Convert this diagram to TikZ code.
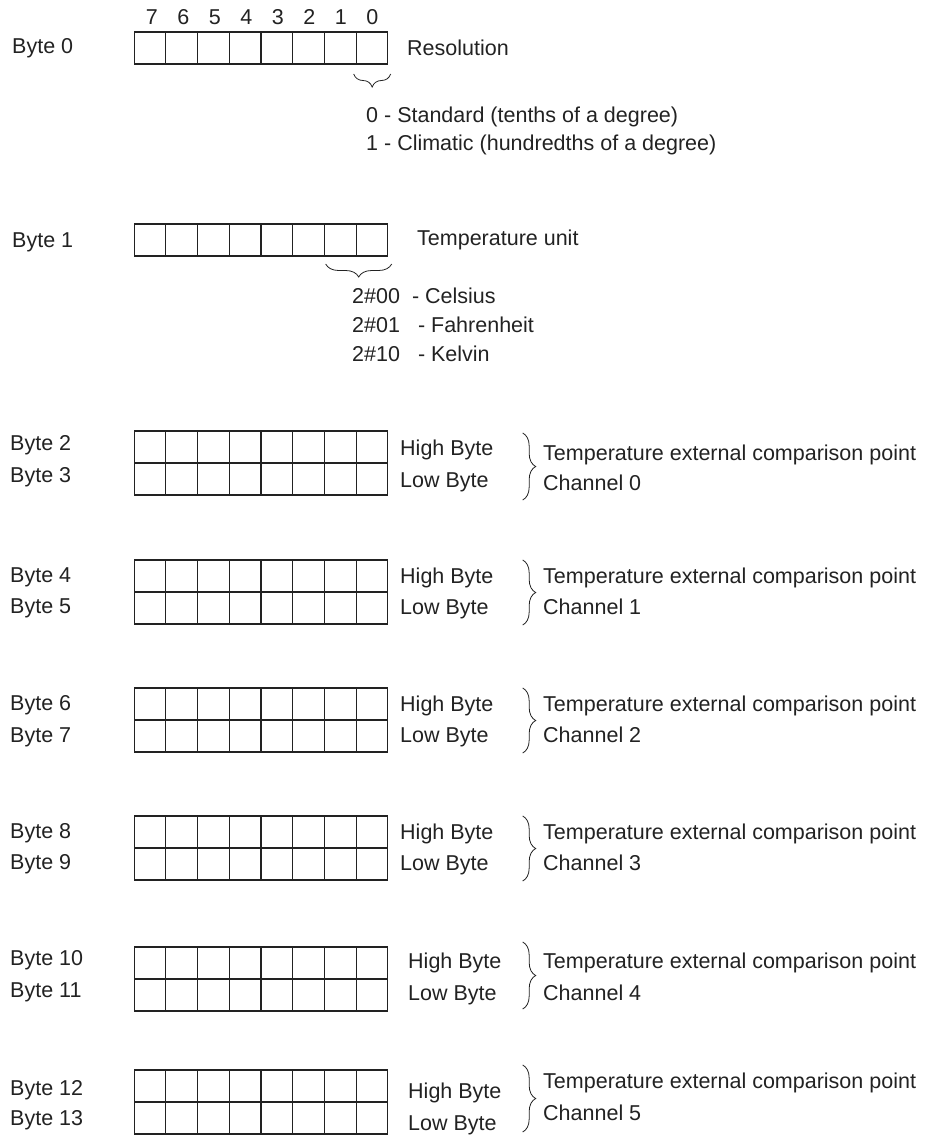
\documentclass[tikz,border=0pt]{standalone}
\usepackage{fontspec}
\setmainfont{Liberation Sans}
\usepackage{tikz}
\usetikzlibrary{positioning,shapes.multipart,decorations.pathreplacing}
\definecolor{inkCol}{RGB}{34, 34, 34}

\begin{document}
\begin{tikzpicture}[
    x=1pt, y=-1pt,
    font=\fontsize{21.5}{25}\selectfont,
    text=inkCol,
    % One byte: eight empty bit cells side by side
    byteRow/.style={
        rectangle split,
        rectangle split horizontal,
        rectangle split parts=8,
        rectangle split empty part width=25.25pt,
        rectangle split empty part height=16pt,
        rectangle split empty part depth=16pt,
        inner sep=0pt,
        outer sep=0pt,
        draw=inkCol,
        line width=1.3pt
    },
    % Left-aligned texts
    plainText/.style={
        anchor=west,
        inner sep=0pt,
        text height=15pt,
        text depth=4.5pt
    },
    % Bit numbers above the first byte
    bitNum/.style={
        inner sep=0pt,
        text height=15pt,
        text depth=0pt
    },
    % Brace under selected bits
    bitBrace/.style={
        decorate,
        decoration={brace, mirror, amplitude=13pt},
        draw=inkCol,
        line width=0.8pt
    },
    % Brace joining high and low byte of one channel
    chanBrace/.style={
        decorate,
        decoration={brace, amplitude=13pt},
        draw=inkCol,
        line width=0.8pt
    }
]

    \def\rowX{261}
    \useasboundingbox (0,0) rectangle (928,1135);

    % Byte 0 - resolution
    \node[byteRow] (byte0) at (\rowX,48) {};
    \node[bitNum] (bit7) at (151.75,17) {7};
    \node[bitNum] (bit6) at (183.25,17) {6};
    \node[bitNum] (bit5) at (214.75,17) {5};
    \node[bitNum] (bit4) at (246.25,17) {4};
    \node[bitNum] (bit3) at (277.75,17) {3};
    \node[bitNum] (bit2) at (309.25,17) {2};
    \node[bitNum] (bit1) at (340.75,17) {1};
    \node[bitNum] (bit0) at (372.25,17) {0};
    \node[plainText] (lbl0) at (12,48) {Byte 0};
    \node[plainText] (res) at (407,50) {Resolution};
    \draw[bitBrace] ([xshift=-34pt,yshift=-10pt]byte0.south east)
        -- ([xshift=3pt,yshift=-10pt]byte0.south east);
    \node[plainText] (std) at (366,117) {0 - Standard (tenths of a degree)};
    \node[plainText] (clim) at (366,145) {1 - Climatic (hundredths of a degree)};

    % Byte 1 - temperature unit
    \node[byteRow] (byte1) at (\rowX,240) {};
    \node[plainText] (lbl1) at (12,242) {Byte 1};
    \node[plainText] (unit) at (417,240) {Temperature unit};
    \draw[bitBrace] ([xshift=-62pt,yshift=-8pt]byte1.south east)
        -- ([xshift=4pt,yshift=-8pt]byte1.south east);
    \node[plainText] (cel) at (352,298) {2\#00\hspace{12pt}- Celsius};
    \node[plainText] (fah) at (352,327) {2\#01\hspace{18pt}- Fahrenheit};
    \node[plainText] (kel) at (352,356) {2\#10\hspace{18pt}- Kelvin};

    % Channel 0
    \node[byteRow] (byte2) at (\rowX,447) {};
    \node[byteRow, below=0pt of byte2] (byte3) {};
    \node[plainText] (lbl2) at (10,445) {Byte 2};
    \node[plainText] (lbl3) at (10,477) {Byte 3};
    \node[plainText] (hi2) at (400,450) {High Byte};
    \node[plainText] (lo3) at (400,482) {Low Byte};
    \draw[chanBrace] ([xshift=135pt,yshift=-2pt]byte2.north east)
        -- ([xshift=135pt,yshift=-5pt]byte3.south east);
    \node[plainText] (tmp2) at (543,455) {Temperature external comparison point};
    \node[plainText] (ch0) at (543,485) {Channel 0};

    % Channel 1
    \node[byteRow] (byte4) at (\rowX,576) {};
    \node[byteRow, below=0pt of byte4] (byte5) {};
    \node[plainText] (lbl4) at (10,577) {Byte 4};
    \node[plainText] (lbl5) at (10,608) {Byte 5};
    \node[plainText] (hi4) at (400,578) {High Byte};
    \node[plainText] (lo5) at (400,609) {Low Byte};
    \draw[chanBrace] ([xshift=135pt]byte4.north east)
        -- ([xshift=135pt,yshift=-1pt]byte5.south east);
    \node[plainText] (tmp4) at (543,578) {Temperature external comparison point};
    \node[plainText] (ch1) at (543,609) {Channel 1};

    % Channel 2
    \node[byteRow] (byte6) at (\rowX,704) {};
    \node[byteRow, below=0pt of byte6] (byte7) {};
    \node[plainText] (lbl6) at (10,705) {Byte 6};
    \node[plainText] (lbl7) at (10,737) {Byte 7};
    \node[plainText] (hi6) at (400,706) {High Byte};
    \node[plainText] (lo7) at (400,737) {Low Byte};
    \draw[chanBrace] ([xshift=135pt]byte6.north east)
        -- ([xshift=135pt,yshift=-1pt]byte7.south east);
    \node[plainText] (tmp6) at (543,706) {Temperature external comparison point};
    \node[plainText] (ch2) at (543,737) {Channel 2};

    % Channel 3
    \node[byteRow] (byte8) at (\rowX,832) {};
    \node[byteRow, below=0pt of byte8] (byte9) {};
    \node[plainText] (lbl8) at (10,833) {Byte 8};
    \node[plainText] (lbl9) at (10,864) {Byte 9};
    \node[plainText] (hi8) at (400,834) {High Byte};
    \node[plainText] (lo9) at (400,865) {Low Byte};
    \draw[chanBrace] ([xshift=135pt]byte8.north east)
        -- ([xshift=135pt,yshift=-1pt]byte9.south east);
    \node[plainText] (tmp8) at (543,834) {Temperature external comparison point};
    \node[plainText] (ch3) at (543,865) {Channel 3};

    % Channel 4
    \node[byteRow] (byte10) at (\rowX,963) {};
    \node[byteRow, below=0pt of byte10] (byte11) {};
    \node[plainText] (lbl10) at (10,960) {Byte 10};
    \node[plainText] (lbl11) at (10,992) {Byte 11};
    \node[plainText] (hi10) at (408,963) {High Byte};
    \node[plainText] (lo11) at (408,995) {Low Byte};
    \draw[chanBrace] ([xshift=135pt,yshift=5pt]byte10.north east)
        -- ([xshift=135pt,yshift=2pt]byte11.south east);
    \node[plainText] (tmp10) at (543,963) {Temperature external comparison point};
    \node[plainText] (ch4) at (543,995) {Channel 4};

    % Channel 5
    \node[byteRow] (byte12) at (\rowX,1086) {};
    \node[byteRow, below=0pt of byte12] (byte13) {};
    \node[plainText] (lbl12) at (10,1090) {Byte 12};
    \node[plainText] (lbl13) at (10,1120) {Byte 13};
    \node[plainText] (hi12) at (408,1093) {High Byte};
    \node[plainText] (lo13) at (408,1125) {Low Byte};
    \draw[chanBrace] ([xshift=135pt,yshift=5pt]byte12.north east)
        -- ([xshift=135pt,yshift=2pt]byte13.south east);
    \node[plainText] (tmp12) at (543,1083) {Temperature external comparison point};
    \node[plainText] (ch5) at (543,1115) {Channel 5};

\end{tikzpicture}
\end{document}
